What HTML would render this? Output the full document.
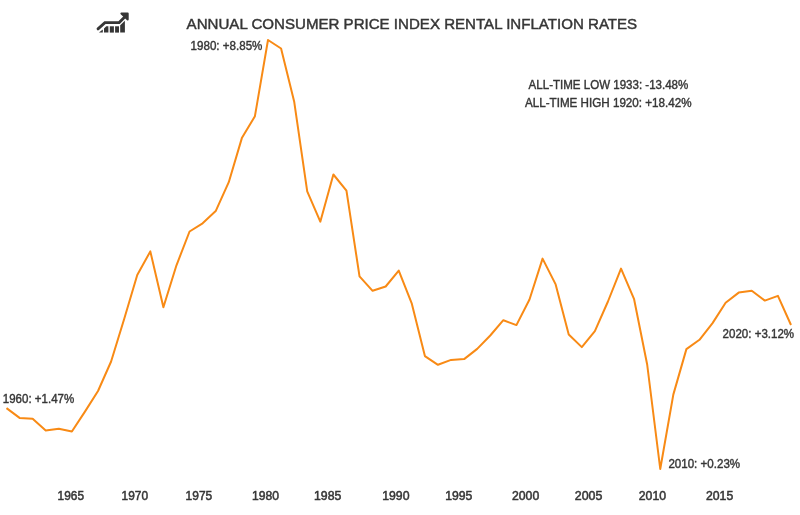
<!DOCTYPE html>
<html><head><meta charset="utf-8"><style>
html,body{margin:0;padding:0;background:#fff;}
body{width:800px;height:515px;overflow:hidden;}
svg{display:block;will-change:transform;}
text{font-family:"Liberation Sans",sans-serif;fill:#363636;}
</style></head><body>
<svg width="800" height="515" viewBox="0 0 800 515">
<g fill="#363636">
<polyline points="98.0,28.9 104.9,22.6 119.2,22.6 125.0,16.8" fill="none" stroke="#363636" stroke-width="2.8" stroke-linecap="round" stroke-linejoin="miter"/>
<path d="M121.4,13.5 L127.7,13.5 L127.7,19.6 Z" stroke="#363636" stroke-width="2.0" stroke-linejoin="round"/>
<path d="M98.9,32.6 L102.8,29.4 L102.8,32.6 Z"/>
<path d="M104.0,28.4 L106.3,26.3 L108.4,26.3 L108.4,32.6 L104.0,32.6 Z"/>
<rect x="109.8" y="26.3" width="4.1" height="6.3"/>
<rect x="115.1" y="26.3" width="3.9" height="6.3"/>
<path d="M120.2,25.2 L124.9,20.8 L124.9,32.6 L120.2,32.6 Z"/>
</g>
<polyline points="6.50,408.10 19.57,417.90 32.65,418.80 45.72,430.60 58.80,428.70 71.88,431.50 84.95,411.60 98.02,391.00 111.10,361.50 124.17,319.00 137.25,275.00 150.32,251.40 163.40,307.30 176.47,265.30 189.55,231.50 202.62,223.30 215.70,211.10 228.77,182.20 241.85,138.10 254.92,116.20 268.00,40.00 281.07,48.50 294.15,101.40 307.22,191.40 320.30,221.70 333.38,174.50 346.45,190.60 359.52,276.30 372.60,290.80 385.67,286.50 398.75,270.60 411.82,303.70 424.90,356.10 437.97,364.80 451.05,359.90 464.12,359.10 477.20,348.90 490.27,335.50 503.35,320.20 516.42,325.10 529.50,299.50 542.57,258.60 555.65,284.40 568.73,334.50 581.80,347.10 594.88,331.20 607.95,301.50 621.02,268.60 634.10,299.20 647.17,364.50 660.25,469.00 673.32,394.60 686.40,349.10 699.47,339.80 712.55,323.10 725.62,302.80 738.70,292.60 751.77,290.80 764.85,300.60 777.92,295.90 791.00,325.00" fill="none" stroke="#f88a15" stroke-width="2" stroke-linejoin="round"/>
<text x="186.6" y="29.4" font-size="15.4" text-anchor="start" stroke="#363636" stroke-width="0.45" textLength="450.6" lengthAdjust="spacingAndGlyphs">ANNUAL CONSUMER PRICE INDEX RENTAL INFLATION RATES</text>
<text x="190.6" y="49.8" font-size="11.9" text-anchor="start" stroke="#363636" stroke-width="0.4" textLength="71.8" lengthAdjust="spacingAndGlyphs">1980: +8.85%</text>
<text x="528.6" y="88.8" font-size="11.9" text-anchor="start" stroke="#363636" stroke-width="0.4" textLength="159.7" lengthAdjust="spacingAndGlyphs">ALL-TIME LOW 1933: -13.48%</text>
<text x="525.0" y="106.6" font-size="11.9" text-anchor="start" stroke="#363636" stroke-width="0.4" textLength="166.5" lengthAdjust="spacingAndGlyphs">ALL-TIME HIGH 1920: +18.42%</text>
<text x="2.8" y="402.6" font-size="11.9" text-anchor="start" stroke="#363636" stroke-width="0.4" textLength="71.4" lengthAdjust="spacingAndGlyphs">1960: +1.47%</text>
<text x="668.4" y="467.8" font-size="11.9" text-anchor="start" stroke="#363636" stroke-width="0.4" textLength="71.7" lengthAdjust="spacingAndGlyphs">2010: +0.23%</text>
<text x="722.6" y="337.8" font-size="11.9" text-anchor="start" stroke="#363636" stroke-width="0.4" textLength="71.5" lengthAdjust="spacingAndGlyphs">2020: +3.12%</text>
<text x="57.6" y="500.0" font-size="11.9" text-anchor="start" stroke="#363636" stroke-width="0.5" textLength="26.4" lengthAdjust="spacingAndGlyphs">1965</text>
<text x="121.6" y="500.0" font-size="11.9" text-anchor="start" stroke="#363636" stroke-width="0.5" textLength="26.4" lengthAdjust="spacingAndGlyphs">1970</text>
<text x="185.6" y="500.0" font-size="11.9" text-anchor="start" stroke="#363636" stroke-width="0.5" textLength="26.6" lengthAdjust="spacingAndGlyphs">1975</text>
<text x="251.9" y="500.0" font-size="11.9" text-anchor="start" stroke="#363636" stroke-width="0.5" textLength="27.0" lengthAdjust="spacingAndGlyphs">1980</text>
<text x="314.0" y="500.0" font-size="11.9" text-anchor="start" stroke="#363636" stroke-width="0.5" textLength="27.3" lengthAdjust="spacingAndGlyphs">1985</text>
<text x="382.2" y="500.0" font-size="11.9" text-anchor="start" stroke="#363636" stroke-width="0.5" textLength="27.3" lengthAdjust="spacingAndGlyphs">1990</text>
<text x="445.2" y="500.0" font-size="11.9" text-anchor="start" stroke="#363636" stroke-width="0.5" textLength="27.2" lengthAdjust="spacingAndGlyphs">1995</text>
<text x="512.0" y="500.0" font-size="11.9" text-anchor="start" stroke="#363636" stroke-width="0.5" textLength="27.2" lengthAdjust="spacingAndGlyphs">2000</text>
<text x="574.8" y="500.0" font-size="11.9" text-anchor="start" stroke="#363636" stroke-width="0.5" textLength="27.6" lengthAdjust="spacingAndGlyphs">2005</text>
<text x="638.8" y="500.0" font-size="11.9" text-anchor="start" stroke="#363636" stroke-width="0.5" textLength="27.2" lengthAdjust="spacingAndGlyphs">2010</text>
<text x="706.0" y="500.0" font-size="11.9" text-anchor="start" stroke="#363636" stroke-width="0.5" textLength="27.2" lengthAdjust="spacingAndGlyphs">2015</text>
</svg>
</body></html>
